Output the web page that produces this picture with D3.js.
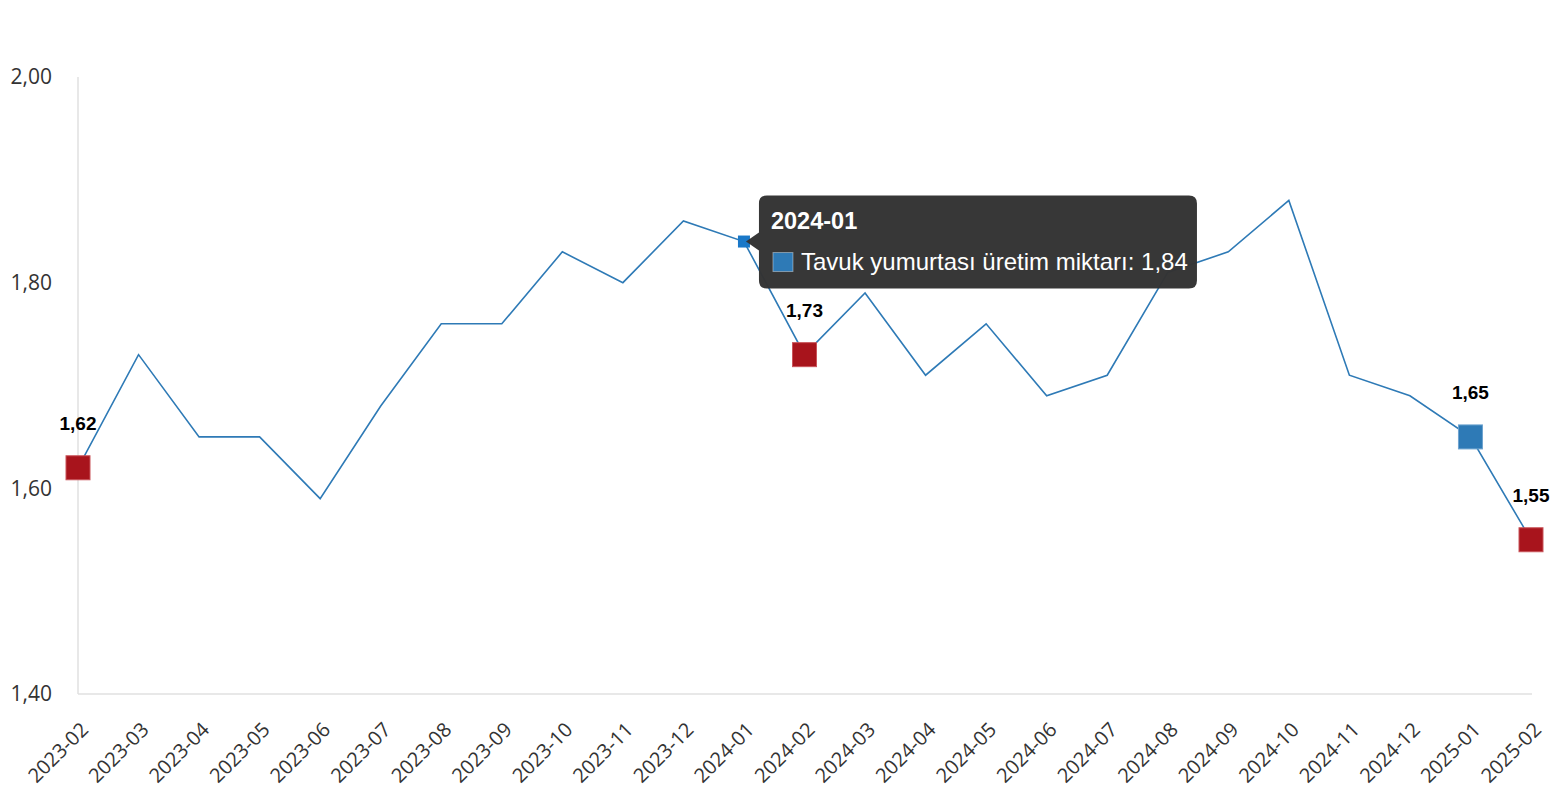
<!DOCTYPE html>
<html><head><meta charset="utf-8">
<script src="https://cdn.jsdelivr.net/npm/d3@7"></script>
<style>
body{margin:0;background:#fff;}
svg{display:block;}
</style></head>
<body>
<svg id="chart" width="1556" height="800"></svg>
<script>
const categories = ["2023-02","2023-03","2023-04","2023-05","2023-06","2023-07","2023-08","2023-09","2023-10","2023-11","2023-12","2024-01","2024-02","2024-03","2024-04","2024-05","2024-06","2024-07","2024-08","2024-09","2024-10","2024-11","2024-12","2025-01","2025-02"];
const values = [1.62,1.73,1.65,1.65,1.59,1.68,1.76,1.76,1.83,1.80,1.86,1.84,1.73,1.79,1.71,1.76,1.69,1.71,1.81,1.83,1.88,1.71,1.69,1.65,1.55];
const yTicks = [1.40,1.60,1.80,2.00];
const redMarkers = ["2023-02","2024-02","2025-02"];
const blueMarkers = ["2025-01"];
const hoverCategory = "2024-01";
const seriesName = "Tavuk yumurtası üretim miktarı";

const fmt = v => d3.format(".2f")(v).replace(".", ",");
const svg = d3.select("#chart");
const x = d3.scalePoint().domain(categories).range([78, 1531]);
const y = d3.scaleLinear().domain([1.40, 2.00]).range([694, 77]);

// axes
svg.append("line").attr("x1",78).attr("x2",78).attr("y1",77).attr("y2",694).attr("stroke","#e0e0e0").attr("stroke-width",1.5);
svg.append("line").attr("x1",78).attr("x2",1532).attr("y1",694).attr("y2",694).attr("stroke","#e0e0e0").attr("stroke-width",1.5);

const yAxis = d3.axisLeft(y).tickValues(yTicks).tickFormat(fmt).tickSize(0).tickPadding(26);
const gy = svg.append("g").attr("transform","translate(78,0)").call(yAxis);
gy.select(".domain").remove();
gy.attr("font-size",null).attr("font-family",null);
gy.selectAll("text").style("font-family","'Open Sans', sans-serif").style("font-size","21px").attr("fill","#333");

const xAxis = d3.axisBottom(x).tickSize(0).tickPadding(0);
const gx = svg.append("g").attr("transform","translate(0,694)").call(xAxis);
gx.select(".domain").remove();
gx.attr("font-size",null).attr("font-family",null);
gx.selectAll("text")
  .style("font-family","'Open Sans', sans-serif").style("font-size","20px").attr("fill","#333")
  .attr("text-anchor","end").attr("dy",null).attr("y",0)
  .attr("transform","translate(11,37) rotate(-45)");

// line
const line = d3.line().x((d,i)=>x(categories[i])).y(d=>y(d));
svg.append("path").datum(values).attr("d",line).attr("fill","none").attr("stroke","#2e7ab6").attr("stroke-width",1.6);

// markers
const idx = c => categories.indexOf(c);
function marker(c, fill, stroke){
  const i = idx(c);
  svg.append("rect").attr("x",x(c)-12).attr("y",y(values[i])-12).attr("width",24).attr("height",24)
    .attr("fill",fill).attr("stroke",stroke).attr("stroke-width",1);
  svg.append("text").attr("x",x(c)).attr("y",y(values[i])-38).attr("text-anchor","middle")
    .style("font-family","'Liberation Sans', Arial, sans-serif").style("font-weight","bold").style("font-size","19px").attr("fill","#000")
    .text(fmt(values[i]));
}
redMarkers.forEach(c=>marker(c,"#a8141c","#c9545a"));
blueMarkers.forEach(c=>marker(c,"#2e7ab6","#6ea3d0"));

// hover marker + tooltip
const hi = idx(hoverCategory);
const hx = x(hoverCategory), hy = y(values[hi]);
svg.append("rect").attr("x",hx-6).attr("y",hy-6).attr("width",12).attr("height",12).attr("fill","#1a78c8");

const tx = hx+15, ty = hy-46, tw = 438, th = 93;
const tip = svg.append("g");
tip.append("path")
  .attr("d",`M${tx+8},${ty} H${tx+tw-8} Q${tx+tw},${ty} ${tx+tw},${ty+8} V${ty+th-8} Q${tx+tw},${ty+th} ${tx+tw-8},${ty+th} H${tx+8} Q${tx},${ty+th} ${tx},${ty+th-8} V${hy+9} L${hx+2},${hy} L${tx},${hy-9} V${ty+8} Q${tx},${ty} ${tx+8},${ty} Z`)
  .attr("fill","#333").attr("fill-opacity",0.98);
tip.append("text").attr("x",tx+12).attr("y",ty+33)
  .style("font-family","'Liberation Sans', Arial, sans-serif").style("font-weight","bold").style("font-size","23.5px").attr("fill","#fff")
  .text(hoverCategory);
tip.append("rect").attr("x",tx+14).attr("y",ty+57).attr("width",20).attr("height",19).attr("fill","#2e7ab6").attr("stroke","#fff").attr("stroke-opacity",0.4);
tip.append("text").attr("x",tx+42).attr("y",ty+74)
  .style("font-family","'Liberation Sans', Arial, sans-serif").style("font-size","24px").attr("fill","#fff")
  .text(seriesName + ": " + fmt(values[hi]));
</script>
</body></html>
